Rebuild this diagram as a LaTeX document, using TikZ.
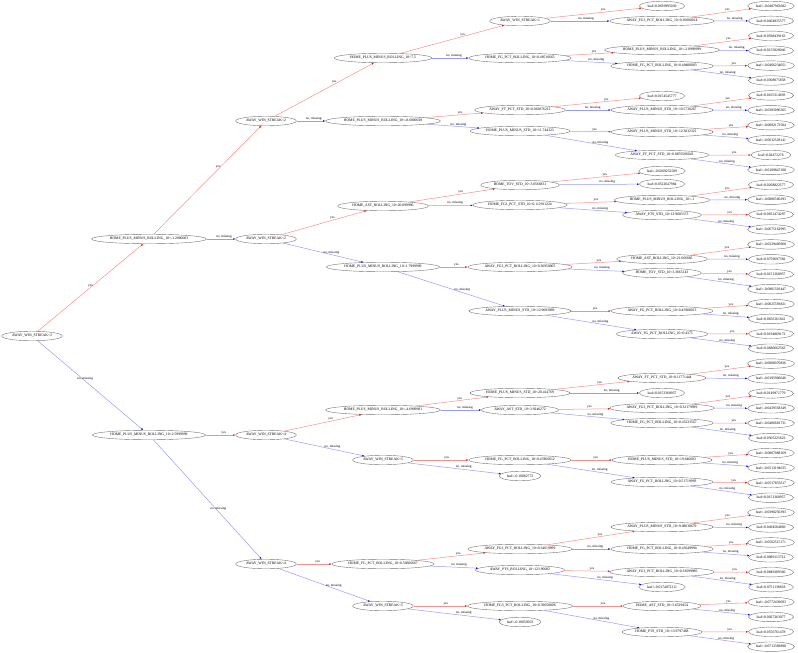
\documentclass[tikz,border=0pt]{standalone}
\usepackage{fontspec}
\setmainfont{Liberation Serif}
\usetikzlibrary{shapes.geometric,arrows.meta}

\tikzset{
  split/.style={ellipse,draw=black!55,line width=0.4pt,inner xsep=1.5pt,inner ysep=0.5pt,minimum height=9.5pt,font=\fontsize{3.7}{4}\selectfont},
  leaf/.style={split},
  yes/.style={draw=red!45,line width=0.5pt,-{Latex[length=2.2pt,width=1.8pt,red]}},
  nomiss/.style={draw=blue!40,line width=0.5pt,-{Latex[length=2.2pt,width=1.8pt,blue]}},
  lbl/.style={font=\fontsize{3.4}{4}\selectfont,inner sep=0.5pt,above}
}

\begin{document}
\begin{tikzpicture}[x=1pt,y=-1pt]
\useasboundingbox (0,0) rectangle (798,653);

% root and first levels
\node[split] (r) at (32,336) {AWAY\_WIN\_STREAK<3};
\node[split] (a1) at (149,239) {HOME\_PLUS\_MINUS\_ROLLING\_10<-1.2000003};
\node[split] (a2) at (149,435) {HOME\_PLUS\_MINUS\_ROLLING\_10<2.5999999};
\node[split] (b1) at (266,121) {AWAY\_WIN\_STREAK<2};
\node[split] (b2) at (266,239) {AWAY\_WIN\_STREAK<2};
\node[split] (b3) at (266,435) {AWAY\_WIN\_STREAK<4};
\node[split] (b4) at (266,564) {AWAY\_WIN\_STREAK<4};
\node[split] (c1) at (383,58) {HOME\_PLUS\_MINUS\_ROLLING\_10<7.5};
\node[split] (c2) at (383,121) {HOME\_PLUS\_MINUS\_ROLLING\_10<-8.6000038};
\node[split] (c3) at (383,206) {HOME\_AST\_ROLLING\_10<20.099996};
\node[split] (c4) at (383,267) {HOME\_PLUS\_MINUS\_ROLLING\_10<1.7999999};
\node[split] (c5) at (383,410) {HOME\_PLUS\_MINUS\_ROLLING\_10<-4.6999981};
\node[split] (c6) at (383,460) {AWAY\_WIN\_STREAK<5};
\node[split] (c7) at (383,564) {HOME\_FG\_PCT\_ROLLING\_10<0.50666667};
\node[split] (c8) at (383,606) {AWAY\_WIN\_STREAK<5};

% fourth level
\node[split] (d1) at (520,21) {AWAY\_WIN\_STREAK<1};
\node[split] (d2) at (520,58) {HOME\_FG\_PCT\_ROLLING\_10<0.48516665};
\node[split] (d3) at (520,110) {AWAY\_FT\_PCT\_STD\_10<0.063876212};
\node[split] (d4) at (520,131) {HOME\_PLUS\_MINUS\_STD\_10<11.744323};
\node[split] (d5) at (520,185) {HOME\_TOV\_STD\_10<3.0566831};
\node[split] (d6) at (520,205) {HOME\_FG3\_PCT\_STD\_10<0.112911224};
\node[split] (d7) at (520,267) {AWAY\_FG3\_PCT\_ROLLING\_10<0.36958005};
\node[split] (d8) at (520,311) {AWAY\_PLUS\_MINUS\_STD\_10<12.9683869};
\node[split] (d9) at (520,393) {HOME\_PLUS\_MINUS\_STD\_10<20.414769};
\node[split] (d10) at (520,410) {AWAY\_AST\_STD\_10<3.9246272};
\node[split] (d11) at (520,460) {HOME\_FG\_PCT\_ROLLING\_10<0.47866012};
\node[leaf] (d12) at (520,476) {leaf=-0.10082772};
\node[split] (d13) at (520,549) {AWAY\_FG3\_PCT\_ROLLING\_10<0.34619999};
\node[split] (d14) at (520,570) {AWAY\_PTS\_ROLLING\_10<123.90002};
\node[split] (d15) at (520,606) {HOME\_FG3\_PCT\_ROLLING\_10<0.39058006};
\node[leaf] (d16) at (520,622) {leaf=-0.10050503};

% fifth level
\node[leaf] (f1) at (662,6) {leaf=0.0639995039};
\node[split] (e1) at (662,21) {AWAY\_FG3\_PCT\_ROLLING\_10<0.36000014};
\node[split] (e2) at (662,50) {HOME\_PLUS\_MINUS\_ROLLING\_10<-2.0999999};
\node[split] (e3) at (662,66) {HOME\_FG\_PCT\_ROLLING\_10<0.49400003};
\node[leaf] (f2) at (662,96) {leaf=0.0154545777};
\node[split] (e4) at (662,110) {AWAY\_PLUS\_MINUS\_STD\_10<10.5730267};
\node[split] (e5) at (662,132) {AWAY\_PLUS\_MINUS\_STD\_10<12.3032321};
\node[split] (e6) at (662,155) {AWAY\_FT\_PCT\_STD\_10<0.0876506043};
\node[leaf] (f3) at (662,171) {leaf=-0.0269252509};
\node[leaf] (f4) at (662,184) {leaf=0.0522647984};
\node[split] (e7) at (662,200) {HOME\_PLUS\_MINUS\_ROLLING\_10<-1};
\node[split] (e8) at (662,215) {AWAY\_PTS\_STD\_10<12.9683373};
\node[split] (e9) at (662,259) {HOME\_AST\_ROLLING\_10<21.666666};
\node[split] (e10) at (662,273) {HOME\_TOV\_STD\_10<3.3665143};
\node[split] (e11) at (662,311) {AWAY\_FG\_PCT\_ROLLING\_10<0.45900013};
\node[split] (e12) at (662,334) {AWAY\_FG\_PCT\_ROLLING\_10<0.4375};
\node[split] (e13) at (662,378) {AWAY\_FT\_PCT\_STD\_10<0.11771444};
\node[leaf] (f5) at (662,393) {leaf=0.0153368957};
\node[split] (e14) at (662,408) {AWAY\_FG3\_PCT\_ROLLING\_10<0.32179999};
\node[split] (e15) at (662,423) {HOME\_FG\_PCT\_ROLLING\_10<0.45233567};
\node[split] (e16) at (662,460) {HOME\_PLUS\_MINUS\_STD\_10<19.646683};
\node[split] (e17) at (662,482) {AWAY\_FG\_PCT\_ROLLING\_10<0.51719993};
\node[split] (e18) at (662,527) {AWAY\_PLUS\_MINUS\_STD\_10<9.08638679};
\node[split] (e19) at (662,549) {HOME\_FG\_PCT\_ROLLING\_10<0.45649994};
\node[split] (e20) at (662,572) {AWAY\_FG3\_PCT\_ROLLING\_10<0.33699986};
\node[leaf] (f6) at (662,587) {leaf=-0.0174072311};
\node[split] (e21) at (662,606) {HOME\_AST\_STD\_10<3.6529454};
\node[split] (e22) at (662,632) {HOME\_PTS\_STD\_10<13.9797468};

% edges
\draw[yes] (r) -- node[lbl,pos=0.5] {yes} (a1);
\draw[nomiss] (r) -- node[lbl,pos=0.45] {no, missing} (a2);
\foreach \p/\y/\n in {a1/b1/b2, a2/b3/b4, b1/c1/c2, b2/c3/c4, b3/c5/c6, b4/c7/c8,
    c1/d1/d2, c2/d3/d4, c3/d5/d6, c4/d7/d8, c5/d9/d10, c6/d11/d12, c7/d13/d14, c8/d15/d16,
    d1/f1/e1, d2/e2/e3, d3/f2/e4, d4/e5/e6, d5/f3/f4, d6/e7/e8, d7/e9/e10, d8/e11/e12,
    d9/e13/f5, d10/e14/e15, d11/e16/e17, d13/e18/e19, d14/e20/f6, d15/e21/e22} {
  \draw[yes] (\p) -- node[lbl,pos=0.6] {yes} (\y);
  \draw[nomiss] (\p) -- node[lbl,pos=0.6] {no, missing} (\n);
}

% last level of leaves
\foreach \val [count=\i from 0] in {-0.0487963682,0.0464935577,0.0598439163,0.0155828046,
    -0.0466234051,0.0308075858,0.0165314693,-0.0383096365,-0.0082172504,-0.0632528141,
    0.02473276,-0.0109847108,0.0268822577,-0.0806560293,0.0651474297,-0.0675162995,
    -0.0229406968,0.0759697382,0.0151368957,-0.0901501447,-0.0025593821,0.0656161841,
    0.0194869172,0.0680662563,-0.0080070836,-0.0195906646,0.0149971779,-0.0439358349,
    -0.0406681731,0.0505225623,-0.0807088169,-0.0513194635,-0.0537855617,0.0151368957,
    -0.0390256393,0.0494504869,-0.0562515171,0.0089113722,0.0849209366,0.0751138638,
    -0.0772439693,0.0027263077,0.0556761478,-0.0713369898} {
  \pgfmathtruncatemacro{\pidx}{int(\i/2)+1}
  \pgfmathtruncatemacro{\odd}{mod(\i,2)}
  \node[leaf] (L\i) at (771,{6+14.9*\i}) {leaf=\val};
  \ifnum\odd=0
    \draw[yes] (e\pidx) -- node[lbl,pos=0.6] {yes} (L\i);
  \else
    \draw[nomiss] (e\pidx) -- node[lbl,pos=0.6] {no, missing} (L\i);
  \fi
}
\end{tikzpicture}
\end{document}
